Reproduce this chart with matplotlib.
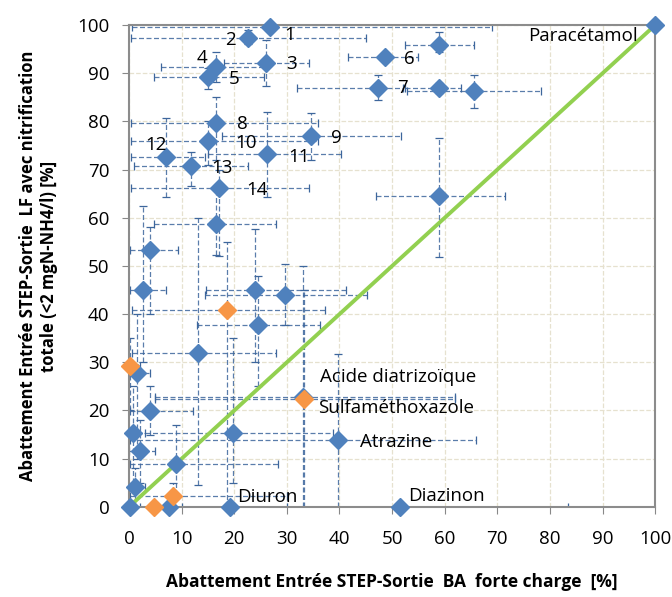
import matplotlib.pyplot as plt
import numpy as np

plt.rcParams['font.family'] = ['Open Sans', 'DejaVu Sans']

# blue series: value + lower/upper bounds of the error bars
blue_x = [26.7, 22.6, 26.0, 16.5, 15.0, 48.6, 58.9, 47.3, 58.9, 65.6,
          16.5, 34.5, 15.1, 26.2, 7.0, 11.7, 17.1, 58.9, 16.5, 4.0,
          2.7, 24.0, 29.7, 24.5, 13.1, 1.5, 33.0, 4.0, 0.8, 19.8,
          39.8, 2.1, 8.9, 1.1, 0.2, 7.6, 19.2, 51.5, 100.0]
blue_y = [99.6, 97.4, 92.2, 91.3, 89.3, 93.3, 95.8, 86.9, 87.0, 86.3,
          79.7, 77.0, 75.9, 73.2, 72.7, 70.7, 66.2, 64.5, 58.8, 53.3,
          45.0, 45.0, 44.0, 37.8, 32.0, 27.7, 22.8, 19.8, 15.3, 15.3,
          13.8, 11.6, 8.9, 4.2, 0.0, 0.0, 0.0, 0.0, 100.0]
blue_xmin = [0.5, 0.4, 18, 6, 4.8, 41.7, 52.5, 32, 52.5, 52.8,
             0.4, 17.6, 0.4, 15, 0.4, 1, 0.4, 47, 4.8, 0.2,
             0.2, 14.6, 14.4, 12.9, 0.5, 0, 5, 0.2, 0, 0.2,
             0.2, 0, 0.2, 0, 0, 0.2, 0.2, 0.2, 100]
blue_xmax = [69, 45, 34.2, 26, 25.7, 55, 65.5, 52, 63, 78.3,
             36, 51.7, 36, 40.2, 14.4, 22.6, 34.2, 71.5, 28, 9.3,
             7, 41.2, 45.2, 36.3, 27.9, 4, 61.9, 12.1, 3, 38.8,
             66, 5, 28.3, 3, 2, 10, 30, 83.5, 100]
blue_ymin = [99.6, 96, 87.3, 88.2, 86.7, 93.3, 94.4, 84.5, 86, 82.8,
             72, 72, 71, 64.4, 64.4, 66.5, 52, 51.9, 52.3, 40,
             30, 30, 37.8, 25, 4.6, 10, 0, 15, 5, 5,
             0, 5, 2.5, 0, 0, 0, 0, 0, 100]
blue_ymax = [99.6, 99, 97, 94.4, 91, 93.3, 98.6, 89.6, 88, 89.6,
             85, 81.7, 80, 82, 80.8, 73.7, 70, 76.5, 66, 58,
             62.4, 57.6, 50.4, 48, 60, 40, 50, 25, 25, 35,
             31.7, 18, 16.9, 8, 0, 0, 0, 0, 100]

# orange series
orange_x = [0.2, 18.7, 33.3, 8.4, 4.8]
orange_y = [29.3, 40.9, 22.3, 2.3, 0.0]
orange_xmin = [0, 0.5, 5, 0.2, 0]
orange_xmax = [2, 37.3, 61.9, 30, 8]
orange_ymin = [20, 0, 0, 0, 0]
orange_ymax = [35, 55, 45, 5, 0]

# 1:1 line
line_x = [1, 100]
line_y = [1, 100]

labels = ['1', '2', '3', '4', '5', '6', '7', '8', '9', '10', '11', '12', '13', '14',
          'Paracétamol', 'Acide diatrizoïque', 'Sulfaméthoxazole', 'Atrazine',
          'Diuron', 'Diazinon']
label_x = [30.6, 19.2, 30.8, 13.9, 20.0, 53.2, 51.9, 21.5, 39.4, 22.2, 32.3, 5.1,
           17.7, 24.3, 75.9, 36.3, 35.9, 43.9, 20.5, 53.0]
label_y = [97.9, 96.9, 91.9, 93.2, 88.8, 92.9, 86.9, 79.5, 76.6, 75.5, 72.6, 75.1,
           70.3, 65.8, 97.7, 27.0, 20.5, 13.5, 2.1, 2.3]
label_ha = ['center'] * 14 + ['left'] * 6

fig = plt.figure(figsize=(6.72, 5.97), dpi=100)
ax = fig.add_axes([0.192, 0.151, 0.783, 0.807])

bar_color = '#3d669c'


def draw_errors(x, y, xmin, xmax, ymin, ymax):
    x = np.array(x); y = np.array(y)
    xerr = [x - np.array(xmin), np.array(xmax) - x]
    yerr = [y - np.array(ymin), np.array(ymax) - y]
    eb = ax.errorbar(x, y, xerr=xerr, yerr=yerr, fmt='none', ecolor=bar_color,
                     elinewidth=0.9, capsize=3, capthick=0.9, zorder=2)
    for lc in eb[2]:
        lc.set_linestyle((0, (4, 2)))
        lc.set_alpha(0.85)


draw_errors(blue_x, blue_y, blue_xmin, blue_xmax, blue_ymin, blue_ymax)
draw_errors(orange_x, orange_y, orange_xmin, orange_xmax, orange_ymin, orange_ymax)

ax.plot(line_x, line_y, color='#92D050', linewidth=2.8, zorder=3)

ax.plot(blue_x, blue_y, 'D', color='#4F81BD', markersize=9, markeredgecolor='#4F81BD',
        linestyle='none', zorder=4, clip_on=False)
ax.plot(orange_x, orange_y, 'D', color='#F79646', markersize=9, markeredgecolor='#F79646',
        linestyle='none', zorder=5, clip_on=False)

for t, lx, ly, ha in zip(labels, label_x, label_y, label_ha):
    ax.text(lx, ly, t, ha=ha, va='center', fontsize=13.5, zorder=6)

ax.set_xlim(0, 100)
ax.set_ylim(0, 100)
ax.set_xticks(np.arange(0, 101, 10))
ax.set_yticks(np.arange(0, 101, 10))
ax.tick_params(labelsize=13.5, length=5, color='#888888')
ax.tick_params(axis='x', pad=12)
ax.tick_params(axis='y', pad=9)
ax.grid(True, color='#e6e1cf', linestyle='--', linewidth=0.9)
ax.set_axisbelow(True)
for s in ax.spines.values():
    s.set_color('#8c8c8c')
    s.set_linewidth(1.5)

ax.set_xlabel('Abattement Entrée STEP-Sortie  BA  forte charge  [%]',
              fontsize=12.5, fontweight='bold', labelpad=18)
ax.set_ylabel('Abattement Entrée STEP-Sortie  LF avec nitrification\ntotale (<2 mgN-NH4/l) [%]',
              fontsize=12, fontweight='bold', labelpad=14)

plt.savefig('out.png', dpi=100)
